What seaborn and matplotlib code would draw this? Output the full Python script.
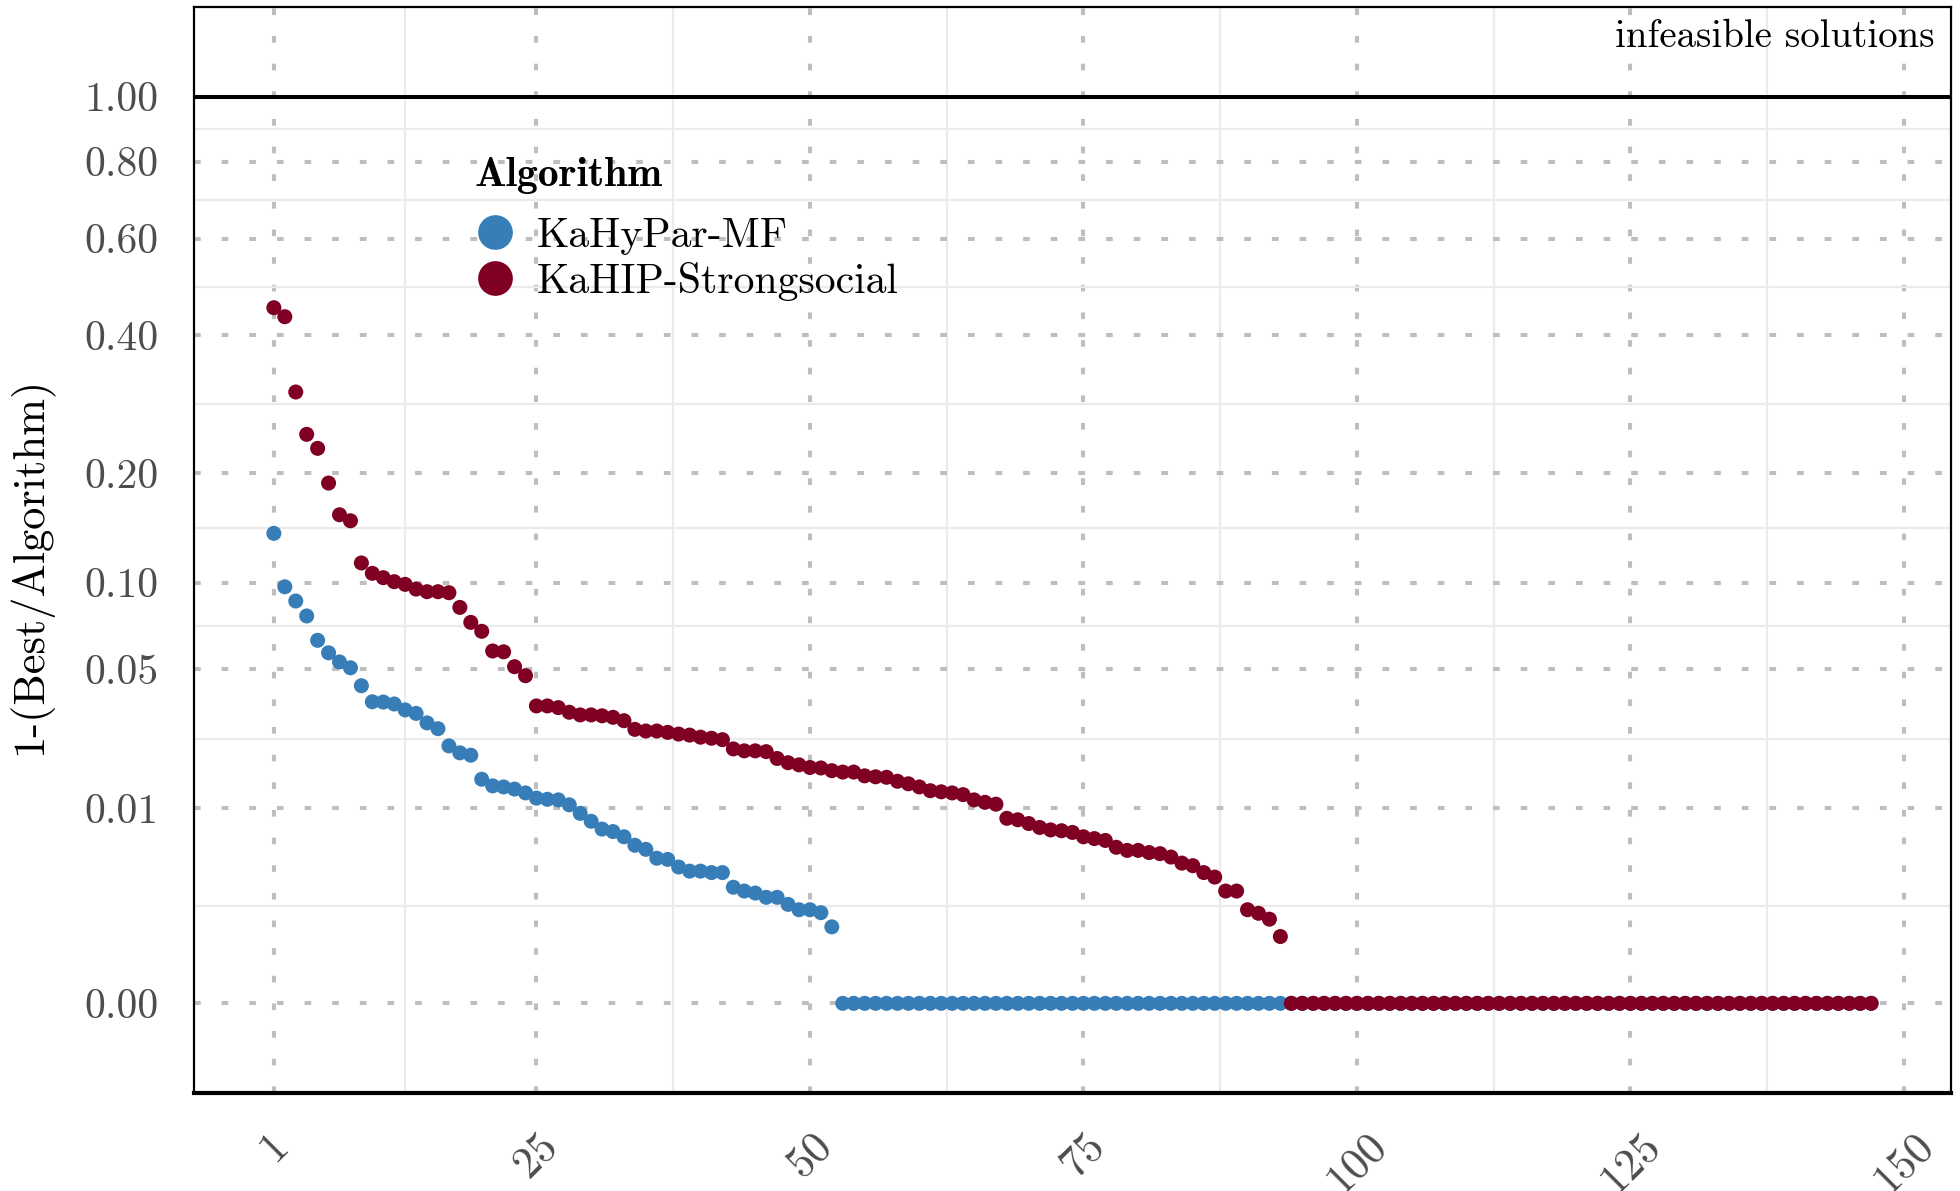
import numpy as np
import pandas as pd
import matplotlib
matplotlib.use("Agg")
import matplotlib.pyplot as plt
from matplotlib.lines import Line2D
from matplotlib.font_manager import FontProperties
from matplotlib.ticker import FixedLocator
import seaborn as sns

# ---------------------------------------------------------------------------
# Data: 1 - (best cut / algorithm cut) per instance, sorted descending
# ---------------------------------------------------------------------------
algorithms = ["KaHyPar-MF", "KaHIP-Strongsocial"]
palette = ["#377EB8", "#7F0023"]

kahypar_mf_nonzero = [
    0.1393, 0.0970, 0.0874, 0.0780, 0.0642, 0.0578, 0.0534, 0.0507, 0.0430, 0.0368,
    0.0367, 0.0360, 0.0339, 0.0327, 0.0296, 0.0278, 0.0229, 0.0211, 0.0205, 0.0151,
    0.0138, 0.0136, 0.0132, 0.0125, 0.0116, 0.0114, 0.0113, 0.0105, 0.0092, 0.0081,
    0.0071, 0.0068, 0.0062, 0.0053, 0.0049, 0.0041, 0.0040, 0.0034, 0.0031, 0.0031,
    0.0030, 0.0030, 0.0021, 0.0019, 0.0018, 0.0016, 0.0016, 0.0013, 0.0011, 0.0011,
    0.0010, 0.0006,
]
kahypar_mf_zero_count = 95

kahip_strongsocial_nonzero = [
    0.4517, 0.4344, 0.3066, 0.2472, 0.2294, 0.1890, 0.1565, 0.1508, 0.1146, 0.1067,
    0.1035, 0.1006, 0.0987, 0.0954, 0.0936, 0.0936, 0.0929, 0.0833, 0.0742, 0.0691,
    0.0587, 0.0583, 0.0512, 0.0472, 0.0353, 0.0353, 0.0347, 0.0331, 0.0322, 0.0322,
    0.0319, 0.0314, 0.0303, 0.0276, 0.0271, 0.0271, 0.0267, 0.0262, 0.0259, 0.0253,
    0.0250, 0.0246, 0.0221, 0.0216, 0.0216, 0.0214, 0.0197, 0.0187, 0.0182, 0.0176,
    0.0175, 0.0169, 0.0166, 0.0166, 0.0158, 0.0156, 0.0155, 0.0147, 0.0142, 0.0136,
    0.0129, 0.0127, 0.0125, 0.0122, 0.0113, 0.0109, 0.0106, 0.0085, 0.0083, 0.0078,
    0.0073, 0.0070, 0.0069, 0.0067, 0.0062, 0.0060, 0.0058, 0.0051, 0.0048, 0.0048,
    0.0046, 0.0045, 0.0042, 0.0037, 0.0035, 0.0030, 0.0027, 0.0019, 0.0019, 0.0011,
    0.00098, 0.0008, 0.0004,
]
kahip_strongsocial_zero_count = 54

y_breaks = [0.0, 0.01, 0.05, 0.10, 0.20, 0.40, 0.60, 0.80, 1.00]
y_labels = ["0.00", "0.01", "0.05", "0.10", "0.20", "0.40", "0.60", "0.80", "1.00"]
x_breaks = [1, 25, 50, 75, 100, 125, 150]
x_labels = ["1", "25", "50", "75", "100", "125", "150"]

kahypar_mf = kahypar_mf_nonzero + [0.0] * kahypar_mf_zero_count
kahip_strongsocial = kahip_strongsocial_nonzero + [0.0] * kahip_strongsocial_zero_count

frames = []
for name, values in zip(algorithms, [kahypar_mf, kahip_strongsocial]):
    frames.append(pd.DataFrame({
        "Instance": np.arange(1, len(values) + 1),
        "Ratio": values,
        "Algorithm": name,
    }))
df = pd.concat(frames, ignore_index=True)

# ---------------------------------------------------------------------------
# Style
# ---------------------------------------------------------------------------
sns.set_style("white")
plt.rcParams.update({
    "font.family": ["cmr10", "DejaVu Serif"],
    "axes.unicode_minus": False,
    "lines.scale_dashes": False,
    "text.color": "black",
    "axes.labelcolor": "black",
})

W, H = 1960, 1191
fig = plt.figure(figsize=(W / 100, H / 100), dpi=100)
left, right, top, bottom = 194, 1951, 6.7, 1093
ax = fig.add_axes([left / W, 1 - bottom / H, (right - left) / W, (bottom - top) / H])

# cube-root y scale
ax.set_yscale("function", functions=(np.cbrt, lambda v: v ** 3))
ax.set_ylim(-(0.0989 ** 3), 1.0993 ** 3)
ax.set_xlim(-6.3, 154.3)

# grid: dotted major lines, light solid minor lines halfway between breaks
ax.yaxis.set_major_locator(FixedLocator(y_breaks))
ax.set_yticklabels(y_labels)
cb = np.cbrt(np.array(y_breaks))
y_minor = ((cb[:-1] + cb[1:]) / 2) ** 3
ax.yaxis.set_minor_locator(FixedLocator(y_minor))
ax.xaxis.set_major_locator(FixedLocator(x_breaks))
ax.set_xticklabels(x_labels, rotation=45, ha="center", va="top", fontsize=32)
xb = np.array(x_breaks, dtype=float)
ax.xaxis.set_minor_locator(FixedLocator((xb[:-1] + xb[1:]) / 2))

ax.set_axisbelow(True)
ax.grid(which="minor", color="#EBEBEB", linewidth=1.6, linestyle="-")
ax.grid(which="major", color="#BEBEBE", linewidth=2.9, linestyle=(0, (4.8, 15.1)))

ax.tick_params(axis="both", which="major", length=14.4, width=2.2, color="#333333",
               labelcolor="#4D4D4D")
ax.tick_params(axis="y", which="major", pad=10.8, labelsize=30)
ax.tick_params(axis="x", which="major", pad=9, labelsize=32)
ax.tick_params(axis="both", which="minor", length=0)

for side, sp in ax.spines.items():
    sp.set_color("black")
    sp.set_linewidth(1.6)
ax.spines["bottom"].set_linewidth(3.0)

# boundary to infeasible solutions
ax.axhline(1.0, color="black", linewidth=2.9, zorder=1.5)
ax.text(0.9909, 0.9717, "infeasible solutions", transform=ax.transAxes,
        ha="right", va="center", fontsize=28, color="black")

sns.scatterplot(data=df, x="Instance", y="Ratio", hue="Algorithm",
                hue_order=algorithms, palette=palette, s=117, linewidth=0,
                ax=ax, legend=False, zorder=3)

ax.set_xlabel("")
ax.set_ylabel("1-(Best/Algorithm)", fontsize=32, color="black")
ax.yaxis.set_label_coords(-0.080, 0.4855)

handles = [Line2D([0], [0], marker="o", linestyle="", markersize=25,
                  markerfacecolor=c, markeredgewidth=0) for c in palette]
leg = ax.legend(handles, algorithms, title="Algorithm", loc="upper left",
                bbox_to_anchor=(0.1594, 0.862), frameon=False, fontsize=30,
                title_fontproperties=FontProperties(family="cmb10", size=30),
                handletextpad=0.5, labelspacing=0.167, borderaxespad=0,
                borderpad=0, handlelength=1.0, alignment="left",
                labelcolor="black")
leg.get_title().set_color("black")
# wider gap between the legend title and its entries
leg._legend_box.sep = 17

fig.savefig("out.png", dpi=100)
